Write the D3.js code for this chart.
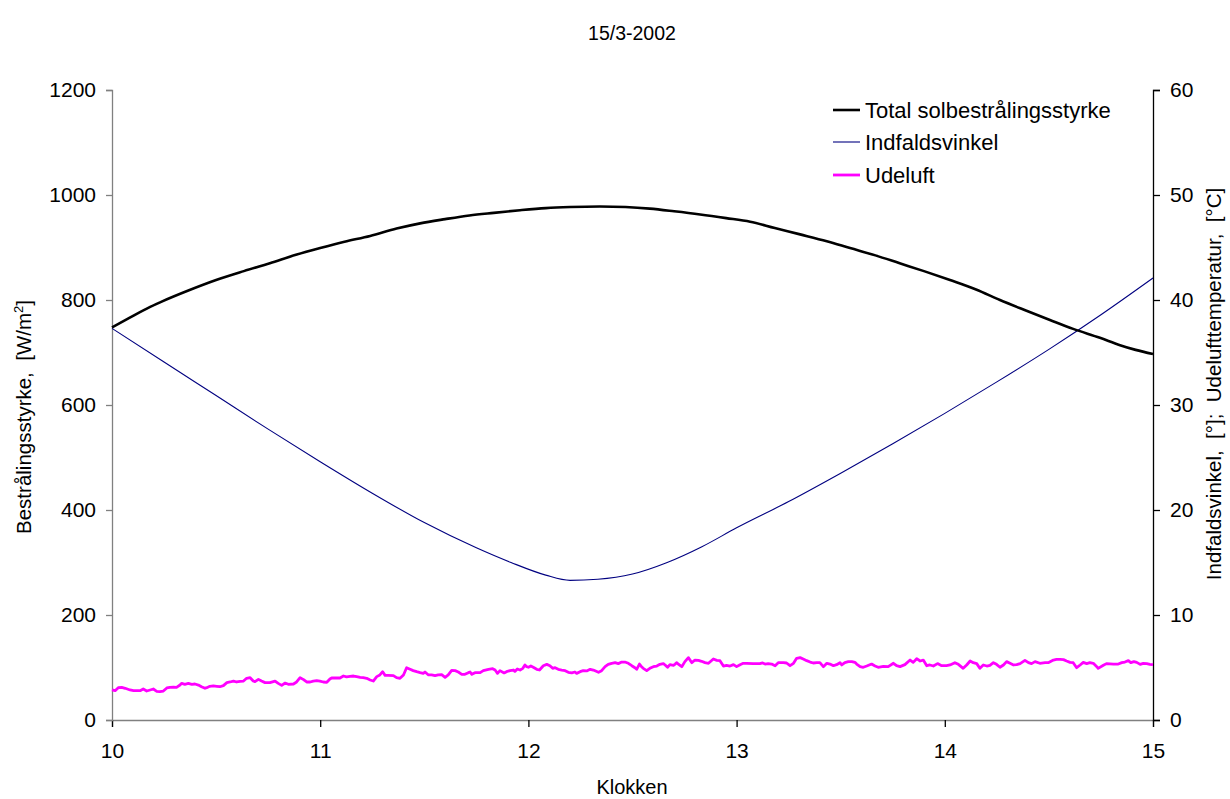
<!DOCTYPE html>
<html>
<head>
<meta charset="utf-8">
<script src="https://cdn.jsdelivr.net/npm/d3@7"></script>
<style>
  html, body { margin: 0; padding: 0; background: #fff; }
  svg { display: block; font-family: "Liberation Sans", Arial, sans-serif; }
  .pre { white-space: pre; }
</style>
</head>
<body>
<svg id="chart" width="1230" height="799"></svg>
<script>
// Time axis (clock hours) and tick values
const hourTicks = [10, 11, 12, 13, 14, 15];
const irradianceTicks = [0, 200, 400, 600, 800, 1000, 1200];
const degreeTicks = [0, 10, 20, 30, 40, 50, 60];

// Total solar irradiance [W/m2]: [minutes after 10:00, value]
const totalIrradiance = [
  [0, 748], [5, 766], [11, 787], [14, 796], [22, 818], [30, 838], [38, 855], [45.5, 870],
  [53, 886], [60, 899], [67, 911], [74.4, 922], [82, 936], [88.8, 946], [96, 954], [103, 961],
  [110, 966], [117.6, 971], [125, 975], [132, 977], [140.6, 978], [148, 977], [155, 974],
  [162, 969], [169.5, 963], [177, 956], [183.9, 949], [191, 937], [198.3, 925], [206, 912],
  [212.7, 899], [220, 885], [227, 870], [234, 855], [241.5, 838], [249, 820], [255.9, 800],
  [263, 781], [270.3, 762], [277, 745], [284.7, 728], [290.5, 714], [295, 705], [300, 697]
];

// Angle of incidence [degrees]: [minutes after 10:00, value]
const incidenceAngle = [
  [0, 37.3], [15, 34.1], [30, 30.9], [45, 27.7], [60, 24.6], [75, 21.6], [90, 18.8],
  [105, 16.4], [115, 15.0], [125, 13.8], [132, 13.3], [140, 13.4], [150, 13.9], [160, 15.0],
  [170, 16.5], [180, 18.3], [195, 20.8], [210, 23.5], [225, 26.3], [240, 29.2], [255, 32.2],
  [270, 35.3], [285, 38.6], [300, 42.1]
];

// Outdoor air temperature [deg C]: [minutes after 10:00, value]
const outdoorTemp = [
  [0,2.86],[0.9,2.79],[1.8,3.08],[2.8,3.11],[3.8,3.02],[5.2,2.86],[6.2,2.79],[8.1,2.79],[9.0,2.95],[10.0,2.76],
  [11.0,2.86],[11.9,2.95],[12.9,2.73],[13.8,2.70],[14.8,2.76],[15.8,3.05],[16.7,3.11],[17.7,3.14],[18.6,3.11],[19.6,3.33],
  [20.1,3.49],[21.0,3.40],[22.0,3.49],[23.0,3.40],[23.9,3.43],[24.9,3.33],[25.8,3.17],[26.8,3.02],[27.3,3.08],[28.2,3.21],
  [29.2,3.24],[30.2,3.21],[31.1,3.17],[32.1,3.27],[33.1,3.56],[34.0,3.62],[35.0,3.71],[35.9,3.62],[36.9,3.68],[37.9,3.71],
  [38.8,3.97],[39.8,4.03],[40.7,3.71],[41.2,3.65],[42.2,3.87],[43.1,3.71],[44.1,3.56],[45.5,3.56],[47.0,3.71],[47.9,3.49],
  [48.9,3.30],[49.9,3.52],[50.8,3.40],[52.3,3.43],[53.2,3.62],[54.2,4.03],[55.1,3.87],[56.1,3.62],[57.1,3.62],[58.0,3.71],
  [59.0,3.75],[59.9,3.71],[60.9,3.62],[61.9,3.59],[62.8,3.90],[63.3,4.00],[64.8,4.00],[65.7,4.00],[66.7,4.19],[67.6,4.10],
  [68.6,4.16],[69.6,4.19],[70.5,4.13],[71.5,4.06],[72.4,4.03],[73.4,3.97],[74.4,3.81],[75.3,3.71],[76.3,4.13],[77.2,4.29],
  [78.0,4.60],[78.7,4.25],[79.6,4.25],[81.1,4.22],[82.0,4.03],[83.0,3.97],[84.0,4.29],[84.9,4.98],[85.9,4.83],[86.8,4.70],
  [87.8,4.60],[88.8,4.51],[89.7,4.44],[90.2,4.57],[91.2,4.29],[92.1,4.29],[93.1,4.22],[94.0,4.29],[95.0,4.32],[96.0,4.06],
  [96.9,4.29],[97.9,4.73],[98.9,4.70],[99.8,4.57],[100.8,4.35],[101.7,4.35],[102.7,4.51],[103.2,4.57],[103.7,4.35],[104.6,4.51],
  [105.6,4.51],[106.1,4.51],[107.0,4.70],[108.5,4.83],[109.7,4.89],[110.4,4.76],[111.1,4.44],[111.8,4.70],[113.0,4.48],[113.7,4.60],
  [114.7,4.70],[115.7,4.76],[116.1,4.63],[116.8,4.86],[117.6,4.76],[118.4,4.92],[119.0,5.24],[119.5,5.08],[120.0,5.02],[120.7,5.14],
  [121.4,5.02],[122.4,4.83],[123.2,4.76],[124.3,5.17],[125.3,5.30],[126.2,5.17],[127.0,4.92],[127.7,4.98],[128.6,4.83],[129.6,4.76],
  [130.6,4.70],[131.5,4.54],[132.5,4.48],[133.4,4.57],[133.9,4.44],[134.9,4.60],[135.8,4.70],[136.8,4.67],[137.8,4.83],[138.7,4.76],
  [140.2,4.54],[141.1,4.70],[142.1,5.08],[143.0,5.30],[144.0,5.40],[145.0,5.46],[145.9,5.37],[146.9,5.52],[147.8,5.52],[148.8,5.40],
  [149.8,5.17],[150.7,4.98],[151.2,4.83],[152.0,5.33],[152.6,5.08],[153.1,4.92],[154.1,4.70],[155.0,4.92],[156.0,5.08],[157.0,5.14],
  [157.9,5.30],[158.9,5.37],[159.4,5.24],[160.1,5.02],[160.8,5.27],[161.8,5.21],[162.3,5.33],[162.7,5.46],[163.2,5.33],[164.2,5.08],
  [165.1,5.56],[166.1,5.94],[167.1,5.46],[168.0,5.71],[169.0,5.68],[169.9,5.59],[170.9,5.46],[171.9,5.40],[173.3,5.81],[174.3,5.68],
  [175.2,5.65],[176.2,5.14],[177.1,5.21],[178.1,5.14],[179.1,5.27],[180.0,5.08],[181.0,5.27],[181.9,5.40],[182.9,5.40],[184.8,5.37],
  [186.7,5.37],[187.5,5.43],[188.2,5.33],[189.1,5.37],[190.1,5.33],[191.1,5.17],[192.0,5.46],[193.5,5.46],[194.4,5.43],[195.4,5.17],
  [196.4,5.40],[197.3,5.87],[198.3,5.94],[199.2,5.81],[200.2,5.65],[201.2,5.52],[202.1,5.43],[203.1,5.46],[204.0,5.46],[205.0,5.08],
  [206.0,5.40],[206.9,5.33],[207.9,5.17],[208.8,5.27],[209.8,5.46],[210.3,5.24],[211.2,5.46],[212.2,5.56],[213.2,5.56],[214.1,5.49],
  [214.6,5.33],[215.6,5.08],[216.5,5.02],[217.5,5.14],[218.9,5.33],[219.9,5.14],[220.8,5.02],[222.3,5.11],[223.7,5.08],[225.2,5.40],
  [226.1,5.17],[227.1,5.08],[228.5,5.27],[230.0,5.71],[230.9,5.49],[231.9,5.84],[232.9,5.62],[233.8,5.71],[234.8,5.17],[235.7,5.24],
  [236.7,5.14],[237.9,5.37],[239.1,5.17],[240.5,5.17],[241.5,5.24],[242.9,5.46],[243.9,5.30],[245.3,4.92],[246.3,5.24],[247.3,5.62],
  [248.2,5.46],[249.2,5.37],[250.1,4.92],[251.1,5.24],[252.1,5.14],[253.0,5.21],[254.0,5.46],[254.9,5.30],[255.9,5.02],[256.9,5.24],
  [257.8,5.56],[258.8,5.40],[259.8,5.24],[260.7,5.27],[261.7,5.37],[263.1,5.68],[264.1,5.46],[265.0,5.37],[266.0,5.56],[267.4,5.40],
  [268.9,5.46],[269.8,5.46],[271.3,5.71],[272.2,5.78],[273.2,5.78],[274.2,5.75],[275.1,5.62],[276.1,5.49],[277.0,5.46],[278.0,4.98],
  [279.0,5.24],[279.9,5.49],[280.9,5.37],[281.8,5.46],[282.8,5.40],[283.8,5.08],[284.2,4.92],[285.7,5.21],[286.6,5.37],[288.6,5.33],
  [290.0,5.33],[291.0,5.46],[291.9,5.52],[292.9,5.65],[293.6,5.46],[294.5,5.56],[295.3,5.49],[296.3,5.30],[297.2,5.40],[298.2,5.37],
  [299.1,5.30],[300.0,5.27]
];

const seriesNames = ["Total solbestrålingsstyrke", "Indfaldsvinkel", "Udeluft"];
const seriesColors = ["#000000", "#000080", "#ff00ff"];
const seriesWidths = [2.6, 1.1, 2.8];

const svg = d3.select("#chart");
const margin = { left: 112, right: 1230 - 1153, top: 90, bottom: 799 - 720 };
const W = 1230, H = 799;

const x = d3.scaleLinear().domain([10, 15]).range([margin.left, W - margin.right]);
const yL = d3.scaleLinear().domain([0, 1200]).range([H - margin.bottom, margin.top]);
const yR = d3.scaleLinear().domain([0, 60]).range([H - margin.bottom, margin.top]);
const hour = m => 10 + m / 60;

// Title
svg.append("text").attr("x", 632).attr("y", 40).attr("text-anchor", "middle")
  .attr("font-size", 19.5).text("15/3-2002");

// Axes
const axisStyle = (g, col) => {
  g.selectAll(".domain").attr("stroke", col).attr("stroke-width", 1.3);
  g.selectAll(".tick line").attr("stroke", col).attr("stroke-width", 1.3);
  g.selectAll(".tick text").attr("fill", "#000").attr("font-size", 21)
    .attr("font-family", "Liberation Sans, Arial, sans-serif");
};

svg.append("g").attr("transform", `translate(0,${yL(0)})`)
  .call(d3.axisBottom(x).tickValues(hourTicks).tickFormat(d3.format("d")).tickSizeOuter(0).tickSize(7).tickPadding(16))
  .call(g => axisStyle(g, "#808080"))
  .call(g => g.selectAll(".tick line").attr("stroke", "#000"));

svg.append("g").attr("transform", `translate(${x(10)},0)`)
  .call(d3.axisLeft(yL).tickValues(irradianceTicks).tickFormat(d3.format("d")).tickSizeOuter(0).tickSize(6).tickPadding(10))
  .call(g => axisStyle(g, "#808080"));

svg.append("g").attr("transform", `translate(${x(15)},0)`)
  .call(d3.axisRight(yR).tickValues(degreeTicks).tickFormat(d3.format("d")).tickSizeOuter(0).tickSize(7).tickPadding(10))
  .call(g => axisStyle(g, "#000"));

// Axis titles
const leftTitle = svg.append("text").attr("class", "pre")
  .attr("transform", `translate(31,${(yL(0) + yL(1200)) / 2 + 12}) rotate(-90)`)
  .attr("text-anchor", "middle").attr("font-size", 20.5);
leftTitle.append("tspan").text("Bestrålingsstyrke,  [W/m");
leftTitle.append("tspan").attr("font-size", 13).attr("dy", -8).text("2");
leftTitle.append("tspan").attr("dy", 8).text("]");

svg.append("text").attr("class", "pre")
  .attr("transform", `translate(1221,${(yR(0) + yR(60)) / 2 - 21}) rotate(-90)`)
  .attr("text-anchor", "middle").attr("font-size", 20.5)
  .text("Indfaldsvinkel,  [°];  Udelufttemperatur,  [°C]");

svg.append("text").attr("x", 632).attr("y", 794).attr("text-anchor", "middle")
  .attr("font-size", 20).text("Klokken");

// Series
const lineL = d3.line().x(d => x(hour(d[0]))).y(d => yL(d[1])).curve(d3.curveMonotoneX);
const lineR = d3.line().x(d => x(hour(d[0]))).y(d => yR(d[1])).curve(d3.curveMonotoneX);
const lineRaw = d3.line().x(d => x(hour(d[0]))).y(d => yR(d[1])).curve(d3.curveLinear);

svg.append("path").datum(outdoorTemp).attr("d", lineRaw)
  .attr("fill", "none").attr("stroke", seriesColors[2]).attr("stroke-width", seriesWidths[2])
  .attr("stroke-linejoin", "round");
svg.append("path").datum(incidenceAngle).attr("d", lineR)
  .attr("fill", "none").attr("stroke", seriesColors[1]).attr("stroke-width", seriesWidths[1]);
svg.append("path").datum(totalIrradiance).attr("d", lineL)
  .attr("fill", "none").attr("stroke", seriesColors[0]).attr("stroke-width", seriesWidths[0]);

// Legend
const legend = svg.append("g");
const legendY = [110, 142, 175];
seriesNames.forEach((name, i) => {
  legend.append("line").attr("x1", 833).attr("x2", 860)
    .attr("y1", legendY[i]).attr("y2", legendY[i])
    .attr("stroke", seriesColors[i]).attr("stroke-width", seriesWidths[i]);
  legend.append("text").attr("x", 865).attr("y", legendY[i]).attr("dy", "0.35em")
    .attr("font-size", 22).text(name);
});
</script>
</body>
</html>
